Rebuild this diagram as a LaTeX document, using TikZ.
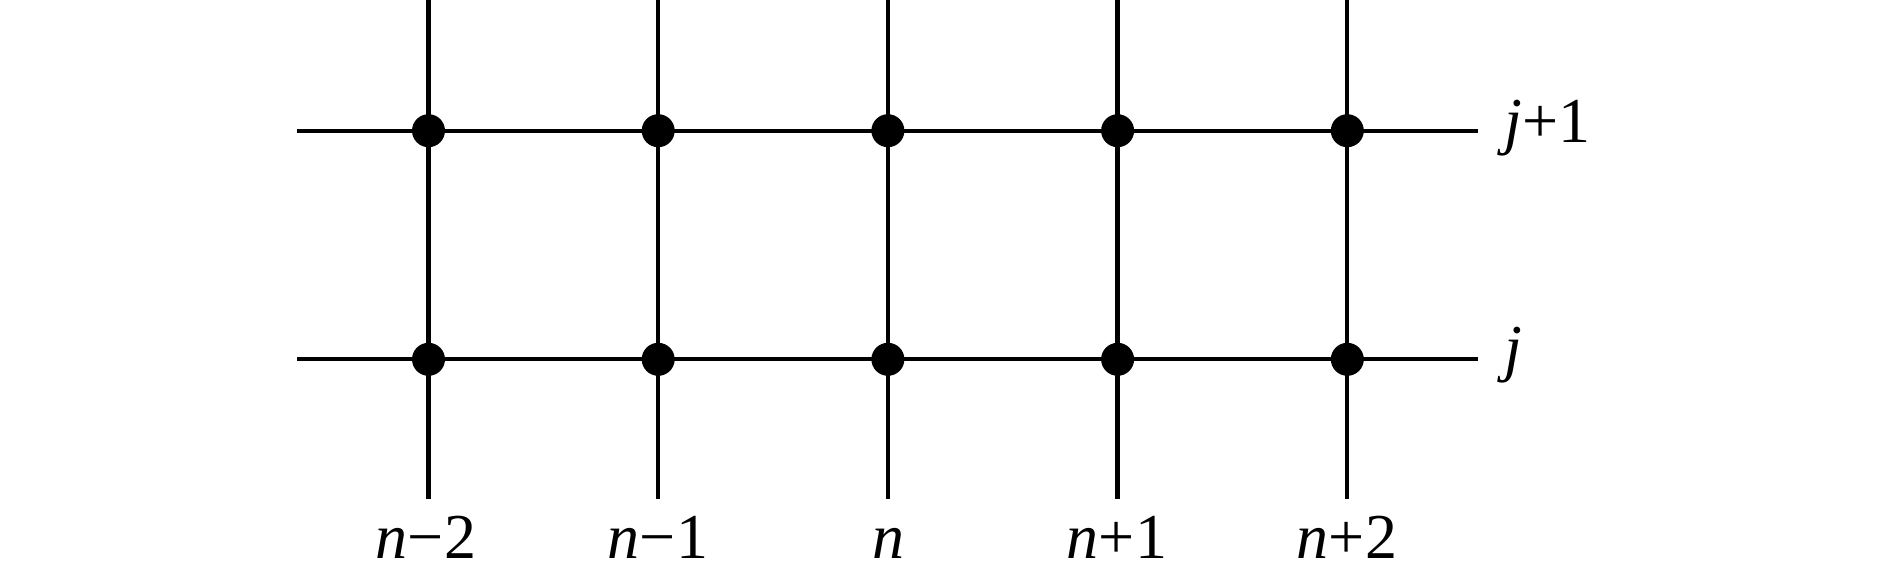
\documentclass[tikz,border=0pt]{standalone}
\usepackage{fontspec}
\setmainfont{Liberation Serif}
\begin{document}
\begin{tikzpicture}[x=1pt,y=-1pt,
  gridline/.style={line width=4.3pt},
  gpoint/.style={circle,fill=black,inner sep=0pt,minimum size=33pt},
  lbl/.style={font=\fontsize{64}{64}\selectfont,inner sep=0pt},
  blbl/.style={lbl,anchor=base,text depth=0pt}]
\useasboundingbox (0,0) rectangle (1889,563);
% vertical lines
\foreach \i/\x in {1/428.5,2/658.2,3/887.9,4/1117.6,5/1347.3}{
  \coordinate (t\i) at (\x,0);
  \coordinate (b\i) at (\x,499);
  \draw[gridline] (t\i) -- (b\i);
}
% horizontal lines
\coordinate (l1) at (297,130.7);
\coordinate (r1) at (1478,130.7);
\coordinate (l2) at (297,359.3);
\coordinate (r2) at (1478,359.3);
\draw[gridline] (l1) -- (r1);
\draw[gridline] (l2) -- (r2);
% points
\foreach \i/\x in {1/428.5,2/658.2,3/887.9,4/1117.6,5/1347.3}{
  \node[gpoint] (p\i a) at (\x,130.7) {};
  \node[gpoint] (p\i b) at (\x,359.3) {};
}
% bottom labels
\node[blbl] (n1) at (426,558) {\textit{n}−2};
\node[blbl] (n2) at (658,558) {\textit{n}−1};
\node[blbl] (n3) at (888,558) {\textit{n}};
\node[blbl] (n4) at (1117,558) {\textit{n}+1};
\node[blbl] (n5) at (1347,558) {\textit{n}+2};
% right labels
\node[lbl,anchor=base west] (jp) at (1504,142.3) {\textit{j}+1};
\node[lbl,anchor=base west] (j) at (1504,369) {\textit{j}};
\end{tikzpicture}
\end{document}
